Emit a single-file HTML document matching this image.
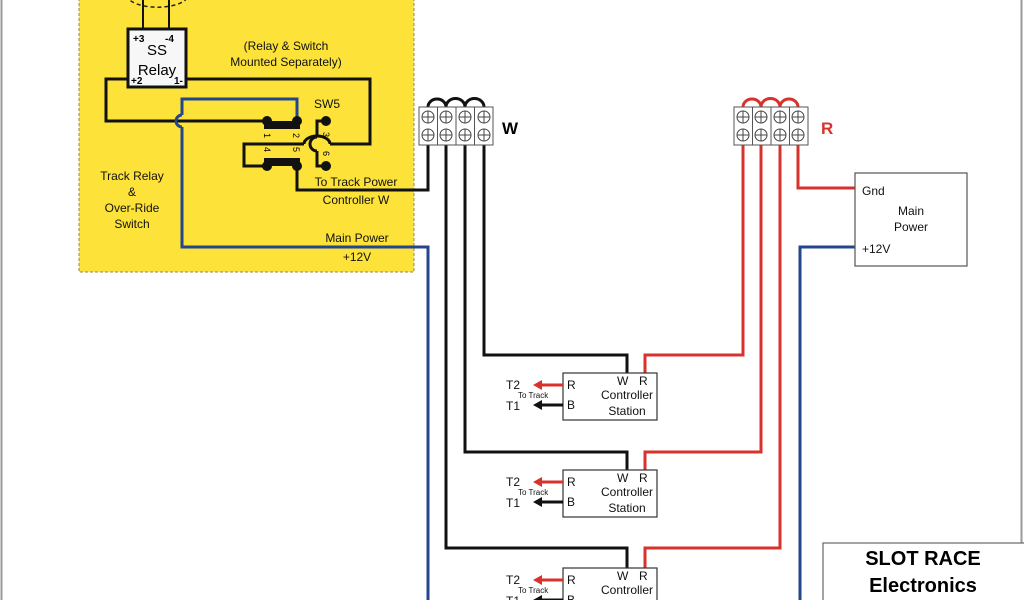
<!DOCTYPE html>
<html><head><meta charset="utf-8"><style>
html,body{margin:0;padding:0;background:#fff}
svg{display:block}
text{font-family:"Liberation Sans",Arial,sans-serif}
</style></head><body>
<svg width="1024" height="600" viewBox="0 0 1024 600" xmlns="http://www.w3.org/2000/svg">
<rect x="0" y="0" width="1024" height="600" fill="#fff"/>
<line x1="1.5" y1="0" x2="1.5" y2="600" stroke="#999" stroke-width="2"/>
<line x1="1021.5" y1="0" x2="1021.5" y2="600" stroke="#999" stroke-width="2"/>
<rect x="79" y="-2" width="335" height="274" fill="#fde23a" stroke="#a08a2a" stroke-width="1" stroke-dasharray="3,2"/>
<path d="M127,-5 A30,12 0 0 0 188,-5" fill="none" stroke="#222" stroke-width="1.5" stroke-dasharray="4,3"/>
<line x1="143" y1="0" x2="143" y2="30" stroke="#111" stroke-width="2"/>
<line x1="169" y1="0" x2="169" y2="30" stroke="#111" stroke-width="2"/>
<g fill="none" stroke="#111" stroke-width="3">
<polyline points="128,79 106,79 106,121 267,121"/>
<polyline points="186,79 370,79 370,144 330,144"/>
<polyline points="304,144 244,144 244,166 267,166"/>
<path d="M330,144 A13,8 0 0 0 304,144" />
<polyline points="297,166 297,190 428,190 428,145"/>
<polyline points="326,121 317,121 317,137"/>
<path d="M317,137 A7,7 0 0 0 317,151"/>
<polyline points="317,151 317,166 326,166"/>
</g>
<g fill="none" stroke="#24468f" stroke-width="3">
<polyline points="297,121 297,99 182,99 182,115"/>
<path d="M182,115 A6,6 0 0 0 182,127"/>
<polyline points="182,127 182,247 428,247 428,600"/>
<polyline points="855,247 800,247 800,600"/>
</g>
<rect x="128" y="29" width="58" height="58" fill="#f7f7f7" stroke="#111" stroke-width="3"/>
<text x="133" y="42" font-size="10" font-weight="bold">+3</text>
<text x="165" y="42" font-size="10" font-weight="bold">-4</text>
<text x="157" y="55" font-size="15" text-anchor="middle">SS</text>
<text x="157" y="75" font-size="15" text-anchor="middle">Relay</text>
<text x="131" y="84" font-size="10" font-weight="bold">+2</text>
<text x="174" y="84" font-size="10" font-weight="bold">1-</text>
<g fill="#111">
<circle cx="267" cy="121" r="5"/><circle cx="297" cy="121" r="5"/>
<circle cx="326" cy="121" r="5"/><circle cx="326" cy="166" r="5"/>
<circle cx="267" cy="166" r="5"/><circle cx="297" cy="166" r="5"/>
<rect x="264" y="121" width="36" height="8"/>
<rect x="264" y="158" width="36" height="8"/>
</g>
<g font-size="9">
<text transform="translate(264,133) rotate(90)">1</text>
<text transform="translate(293,133) rotate(90)">2</text>
<text transform="translate(323,132) rotate(90)">3</text>
<text transform="translate(264,147) rotate(90)">4</text>
<text transform="translate(293,147) rotate(90)">5</text>
<text transform="translate(323,151) rotate(90)">6</text>
</g>
<g font-size="12" fill="#111" text-anchor="middle">
<text x="286" y="50">(Relay &amp; Switch</text>
<text x="286" y="66">Mounted Separately)</text>
<text x="327" y="108">SW5</text>
<text x="132" y="180">Track Relay</text>
<text x="132" y="196">&amp;</text>
<text x="132" y="212">Over-Ride</text>
<text x="132" y="228">Switch</text>
<text x="356" y="186">To Track Power</text>
<text x="356" y="204">Controller W</text>
<text x="357" y="242">Main Power</text>
<text x="357" y="261">+12V</text>
</g>
<g fill="none" stroke="#111" stroke-width="3">
<path d="M428,107 A9,8 0 0 1 446,107 A9,8 0 0 1 465,107 A9,8 0 0 1 484,107"/>
<polyline points="446,145 446,548 627,548 627,568"/>
<polyline points="465,145 465,452 627,452 627,470"/>
<polyline points="484,145 484,355 627,355 627,373"/>
</g>
<g fill="none" stroke="#d8322c" stroke-width="3">
<path d="M743,107 A9,8 0 0 1 761,107 A9,8 0 0 1 780,107 A9,8 0 0 1 798,107"/>
<polyline points="743,145 743,355 645,355 645,373"/>
<polyline points="761,145 761,452 645,452 645,470"/>
<polyline points="780,145 780,548 645,548 645,568"/>
<polyline points="798,145 798,188 855,188"/>
</g>
<g fill="#fff" stroke="#555" stroke-width="1">
<rect x="419" y="107" width="74" height="38"/>
<line x1="437.5" y1="107" x2="437.5" y2="145"/><line x1="456" y1="107" x2="456" y2="145"/><line x1="474.5" y1="107" x2="474.5" y2="145"/>
</g>
<g fill="none" stroke="#444" stroke-width="1">
<circle cx="428" cy="117" r="6"/><circle cx="446" cy="117" r="6"/><circle cx="465" cy="117" r="6"/><circle cx="484" cy="117" r="6"/>
<circle cx="428" cy="135" r="6"/><circle cx="446" cy="135" r="6"/><circle cx="465" cy="135" r="6"/><circle cx="484" cy="135" r="6"/>
<path d="M422,117h12M428,111v12M440,117h12M446,111v12M459,117h12M465,111v12M478,117h12M484,111v12M422,135h12M428,129v12M440,135h12M446,129v12M459,135h12M465,129v12M478,135h12M484,129v12"/>
</g>
<g fill="#fff" stroke="#555" stroke-width="1">
<rect x="734" y="107" width="74" height="38"/>
<line x1="752.5" y1="107" x2="752.5" y2="145"/><line x1="771" y1="107" x2="771" y2="145"/><line x1="789.5" y1="107" x2="789.5" y2="145"/>
</g>
<g fill="none" stroke="#444" stroke-width="1">
<circle cx="743" cy="117" r="6"/><circle cx="761" cy="117" r="6"/><circle cx="780" cy="117" r="6"/><circle cx="798" cy="117" r="6"/>
<circle cx="743" cy="135" r="6"/><circle cx="761" cy="135" r="6"/><circle cx="780" cy="135" r="6"/><circle cx="798" cy="135" r="6"/>
<path d="M737,117h12M743,111v12M755,117h12M761,111v12M774,117h12M780,111v12M792,117h12M798,111v12M737,135h12M743,129v12M755,135h12M761,129v12M774,135h12M780,129v12M792,135h12M798,129v12"/>
</g>
<text x="502" y="134" font-size="17" font-weight="bold">W</text>
<text x="821" y="134" font-size="17" font-weight="bold" fill="#d8322c">R</text>
<rect x="855" y="173" width="112" height="93" fill="#fff" stroke="#555" stroke-width="1.2"/>
<g font-size="12" fill="#111">
<text x="862" y="195">Gnd</text>
<text x="911" y="215" text-anchor="middle">Main</text>
<text x="911" y="231" text-anchor="middle">Power</text>
<text x="862" y="253">+12V</text>
</g>
<g font-size="12" fill="#111">
<g>
<rect x="563" y="373" width="94" height="47" fill="#fff" stroke="#333" stroke-width="1.2"/>
<text x="617" y="385">W</text><text x="639" y="385">R</text>
<text x="627" y="399" text-anchor="middle">Controller</text>
<text x="627" y="415" text-anchor="middle">Station</text>
<text x="567" y="389">R</text><text x="567" y="409">B</text>
<line x1="563" y1="385" x2="540" y2="385" stroke="#d8322c" stroke-width="3"/><path d="M533,385 l9,-5 v10z" fill="#d8322c"/>
<line x1="563" y1="405" x2="540" y2="405" stroke="#111" stroke-width="3"/><path d="M533,405 l9,-5 v10z" fill="#111"/>
<text x="506" y="389">T2</text><text x="518" y="398" font-size="8">To Track</text><text x="506" y="410">T1</text>
</g>
<g transform="translate(0,97)">
<rect x="563" y="373" width="94" height="47" fill="#fff" stroke="#333" stroke-width="1.2"/>
<text x="617" y="385">W</text><text x="639" y="385">R</text>
<text x="627" y="399" text-anchor="middle">Controller</text>
<text x="627" y="415" text-anchor="middle">Station</text>
<text x="567" y="389">R</text><text x="567" y="409">B</text>
<line x1="563" y1="385" x2="540" y2="385" stroke="#d8322c" stroke-width="3"/><path d="M533,385 l9,-5 v10z" fill="#d8322c"/>
<line x1="563" y1="405" x2="540" y2="405" stroke="#111" stroke-width="3"/><path d="M533,405 l9,-5 v10z" fill="#111"/>
<text x="506" y="389">T2</text><text x="518" y="398" font-size="8">To Track</text><text x="506" y="410">T1</text>
</g>
<g transform="translate(0,195)">
<rect x="563" y="373" width="94" height="47" fill="#fff" stroke="#333" stroke-width="1.2"/>
<text x="617" y="385">W</text><text x="639" y="385">R</text>
<text x="627" y="399" text-anchor="middle">Controller</text>
<text x="627" y="415" text-anchor="middle">Station</text>
<text x="567" y="389">R</text><text x="567" y="409">B</text>
<line x1="563" y1="385" x2="540" y2="385" stroke="#d8322c" stroke-width="3"/><path d="M533,385 l9,-5 v10z" fill="#d8322c"/>
<line x1="563" y1="405" x2="540" y2="405" stroke="#111" stroke-width="3"/><path d="M533,405 l9,-5 v10z" fill="#111"/>
<text x="506" y="389">T2</text><text x="518" y="398" font-size="8">To Track</text><text x="506" y="410">T1</text>
</g>
</g>
<rect x="823" y="543" width="210" height="70" fill="#fff" stroke="#666" stroke-width="1.2"/>
<text x="923" y="565" font-size="20" font-weight="bold" text-anchor="middle">SLOT RACE</text>
<text x="923" y="592" font-size="20" font-weight="bold" text-anchor="middle">Electronics</text>
</svg>
</body></html>
